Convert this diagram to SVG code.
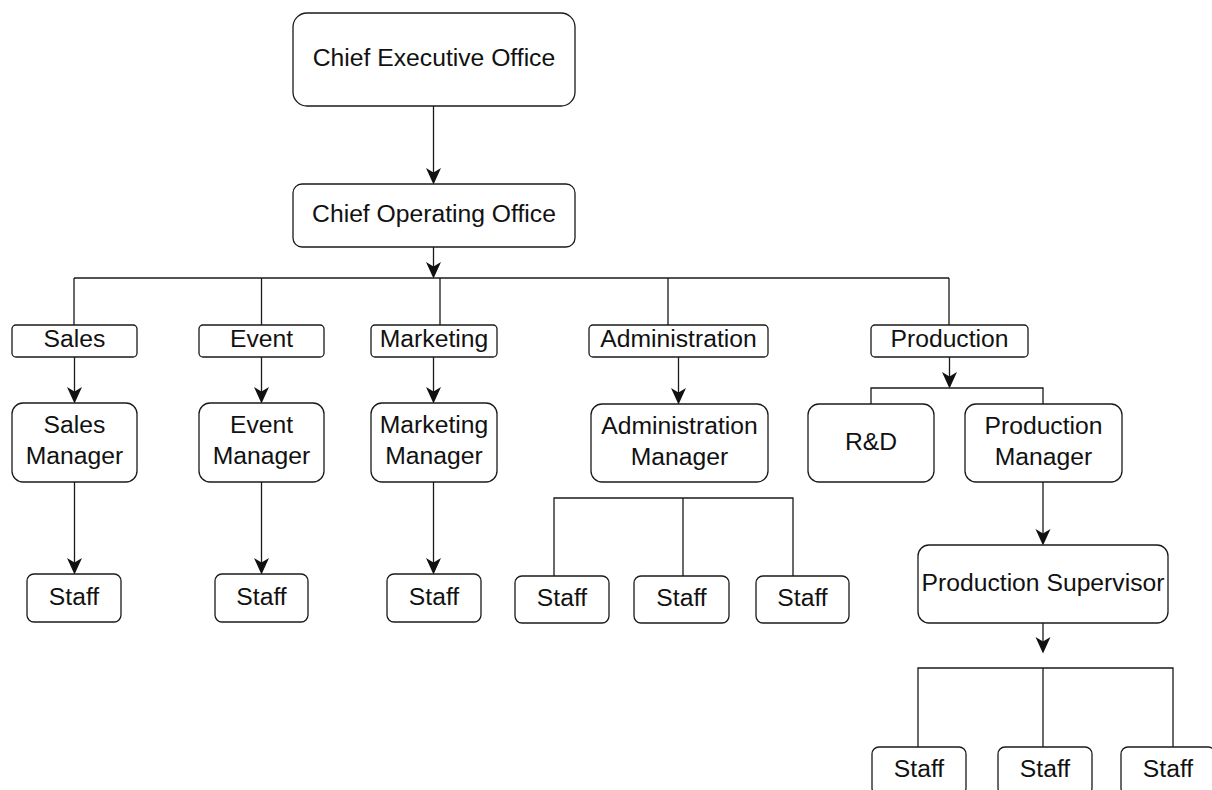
<svg xmlns="http://www.w3.org/2000/svg" width="1212" height="790" viewBox="0 0 1212 790">
<style>
  .box { fill: #ffffff; stroke: #1a1a1a; stroke-width: 1.3; }
  .t { font-family: "Liberation Sans", Arial, sans-serif; font-size: 24.7px; fill: #111111; text-anchor: middle; }
  .c { fill: none; stroke: #1a1a1a; stroke-width: 1.3; }
</style>
<defs>
  <marker id="arr" markerUnits="userSpaceOnUse" markerWidth="17" markerHeight="16" viewBox="0 0 17 16" refX="12" refY="8" orient="auto">
    <path d="M16.5,8 L0,0.5 L4.5,8 L0,15.5 Z" fill="#111111"/>
  </marker>
</defs>
<rect width="1212" height="790" fill="#ffffff"/>

<g id="connectors">
  <path class="c" d="M433.5,106 V180" marker-end="url(#arr)"/>
  <path class="c" d="M433.5,247 V274" marker-end="url(#arr)"/>
  <path class="c" d="M74,278 H949 M74,278 V325 M261.5,278 V325 M440,278 V325 M668,278 V325 M949,278 V325"/>
  <path class="c" d="M74.5,357 V399" marker-end="url(#arr)"/>
  <path class="c" d="M261.5,357 V399" marker-end="url(#arr)"/>
  <path class="c" d="M433.5,357 V399" marker-end="url(#arr)"/>
  <path class="c" d="M678.5,357 V400" marker-end="url(#arr)"/>
  <path class="c" d="M949.5,357 V384" marker-end="url(#arr)"/>
  <path class="c" d="M871,404 V388 H1043 V404"/>
  <path class="c" d="M74.5,482 V570" marker-end="url(#arr)"/>
  <path class="c" d="M261.5,482 V570" marker-end="url(#arr)"/>
  <path class="c" d="M433.5,482 V570" marker-end="url(#arr)"/>
  <path class="c" d="M554,576 V498 H793 V576 M683,498 V576"/>
  <path class="c" d="M1043,482 V541" marker-end="url(#arr)"/>
  <path class="c" d="M1043,623 V649" marker-end="url(#arr)"/>
  <path class="c" d="M918,747 V668 H1173 V747 M1043,668 V747"/>
</g>

<g id="ceo">
  <rect class="box" x="293" y="13" width="282" height="93" rx="14"/>
  <text class="t" x="434" y="66">Chief Executive Office</text>
</g>
<g id="coo">
  <rect class="box" x="293" y="184" width="282" height="63" rx="9"/>
  <text class="t" x="434" y="222">Chief Operating Office</text>
</g>

<g id="dept-sales">
  <rect class="box" x="12" y="325" width="125" height="32" rx="4"/>
  <text class="t" x="74.5" y="347">Sales</text>
</g>
<g id="dept-event">
  <rect class="box" x="199" y="325" width="125" height="32" rx="4"/>
  <text class="t" x="261.5" y="347">Event</text>
</g>
<g id="dept-marketing">
  <rect class="box" x="371" y="325" width="126" height="32" rx="4"/>
  <text class="t" x="434" y="347">Marketing</text>
</g>
<g id="dept-administration">
  <rect class="box" x="589" y="325" width="179" height="32" rx="4"/>
  <text class="t" x="678.5" y="347">Administration</text>
</g>
<g id="dept-production">
  <rect class="box" x="871" y="325" width="157" height="32" rx="4"/>
  <text class="t" x="949.5" y="347">Production</text>
</g>

<g id="sales-manager">
  <rect class="box" x="12" y="403" width="125" height="79" rx="11"/>
  <text class="t" x="74.5" y="433">Sales</text>
  <text class="t" x="74.5" y="464">Manager</text>
</g>
<g id="event-manager">
  <rect class="box" x="199" y="403" width="125" height="79" rx="11"/>
  <text class="t" x="261.5" y="433">Event</text>
  <text class="t" x="261.5" y="464">Manager</text>
</g>
<g id="marketing-manager">
  <rect class="box" x="371" y="403" width="126" height="79" rx="11"/>
  <text class="t" x="434" y="433">Marketing</text>
  <text class="t" x="434" y="464">Manager</text>
</g>
<g id="administration-manager">
  <rect class="box" x="591" y="404" width="177" height="78" rx="11"/>
  <text class="t" x="679.5" y="434">Administration</text>
  <text class="t" x="679.5" y="465">Manager</text>
</g>
<g id="rnd">
  <rect class="box" x="808" y="404" width="126" height="78" rx="11"/>
  <text class="t" x="871" y="450">R&amp;D</text>
</g>
<g id="production-manager">
  <rect class="box" x="965" y="404" width="157" height="78" rx="11"/>
  <text class="t" x="1043.5" y="434">Production</text>
  <text class="t" x="1043.5" y="465">Manager</text>
</g>
<g id="production-supervisor">
  <rect class="box" x="918" y="545" width="250" height="78" rx="11"/>
  <text class="t" x="1043" y="591">Production Supervisor</text>
</g>

<g id="staff-sales">
  <rect class="box" x="27" y="574" width="94" height="48" rx="7"/>
  <text class="t" x="74" y="605">Staff</text>
</g>
<g id="staff-event">
  <rect class="box" x="215" y="574" width="93" height="48" rx="7"/>
  <text class="t" x="261.5" y="605">Staff</text>
</g>
<g id="staff-marketing">
  <rect class="box" x="387" y="574" width="94" height="48" rx="7"/>
  <text class="t" x="434" y="605">Staff</text>
</g>
<g id="staff-admin-1">
  <rect class="box" x="515" y="576" width="94" height="47" rx="7"/>
  <text class="t" x="562" y="606">Staff</text>
</g>
<g id="staff-admin-2">
  <rect class="box" x="634" y="576" width="95" height="47" rx="7"/>
  <text class="t" x="681.5" y="606">Staff</text>
</g>
<g id="staff-admin-3">
  <rect class="box" x="756" y="576" width="93" height="47" rx="7"/>
  <text class="t" x="802.5" y="606">Staff</text>
</g>
<g id="staff-prod-1">
  <rect class="box" x="872" y="747" width="94" height="48" rx="7"/>
  <text class="t" x="919" y="777">Staff</text>
</g>
<g id="staff-prod-2">
  <rect class="box" x="998" y="747" width="94" height="48" rx="7"/>
  <text class="t" x="1045" y="777">Staff</text>
</g>
<g id="staff-prod-3">
  <rect class="box" x="1121" y="747" width="94" height="48" rx="7"/>
  <text class="t" x="1168" y="777">Staff</text>
</g>
</svg>
